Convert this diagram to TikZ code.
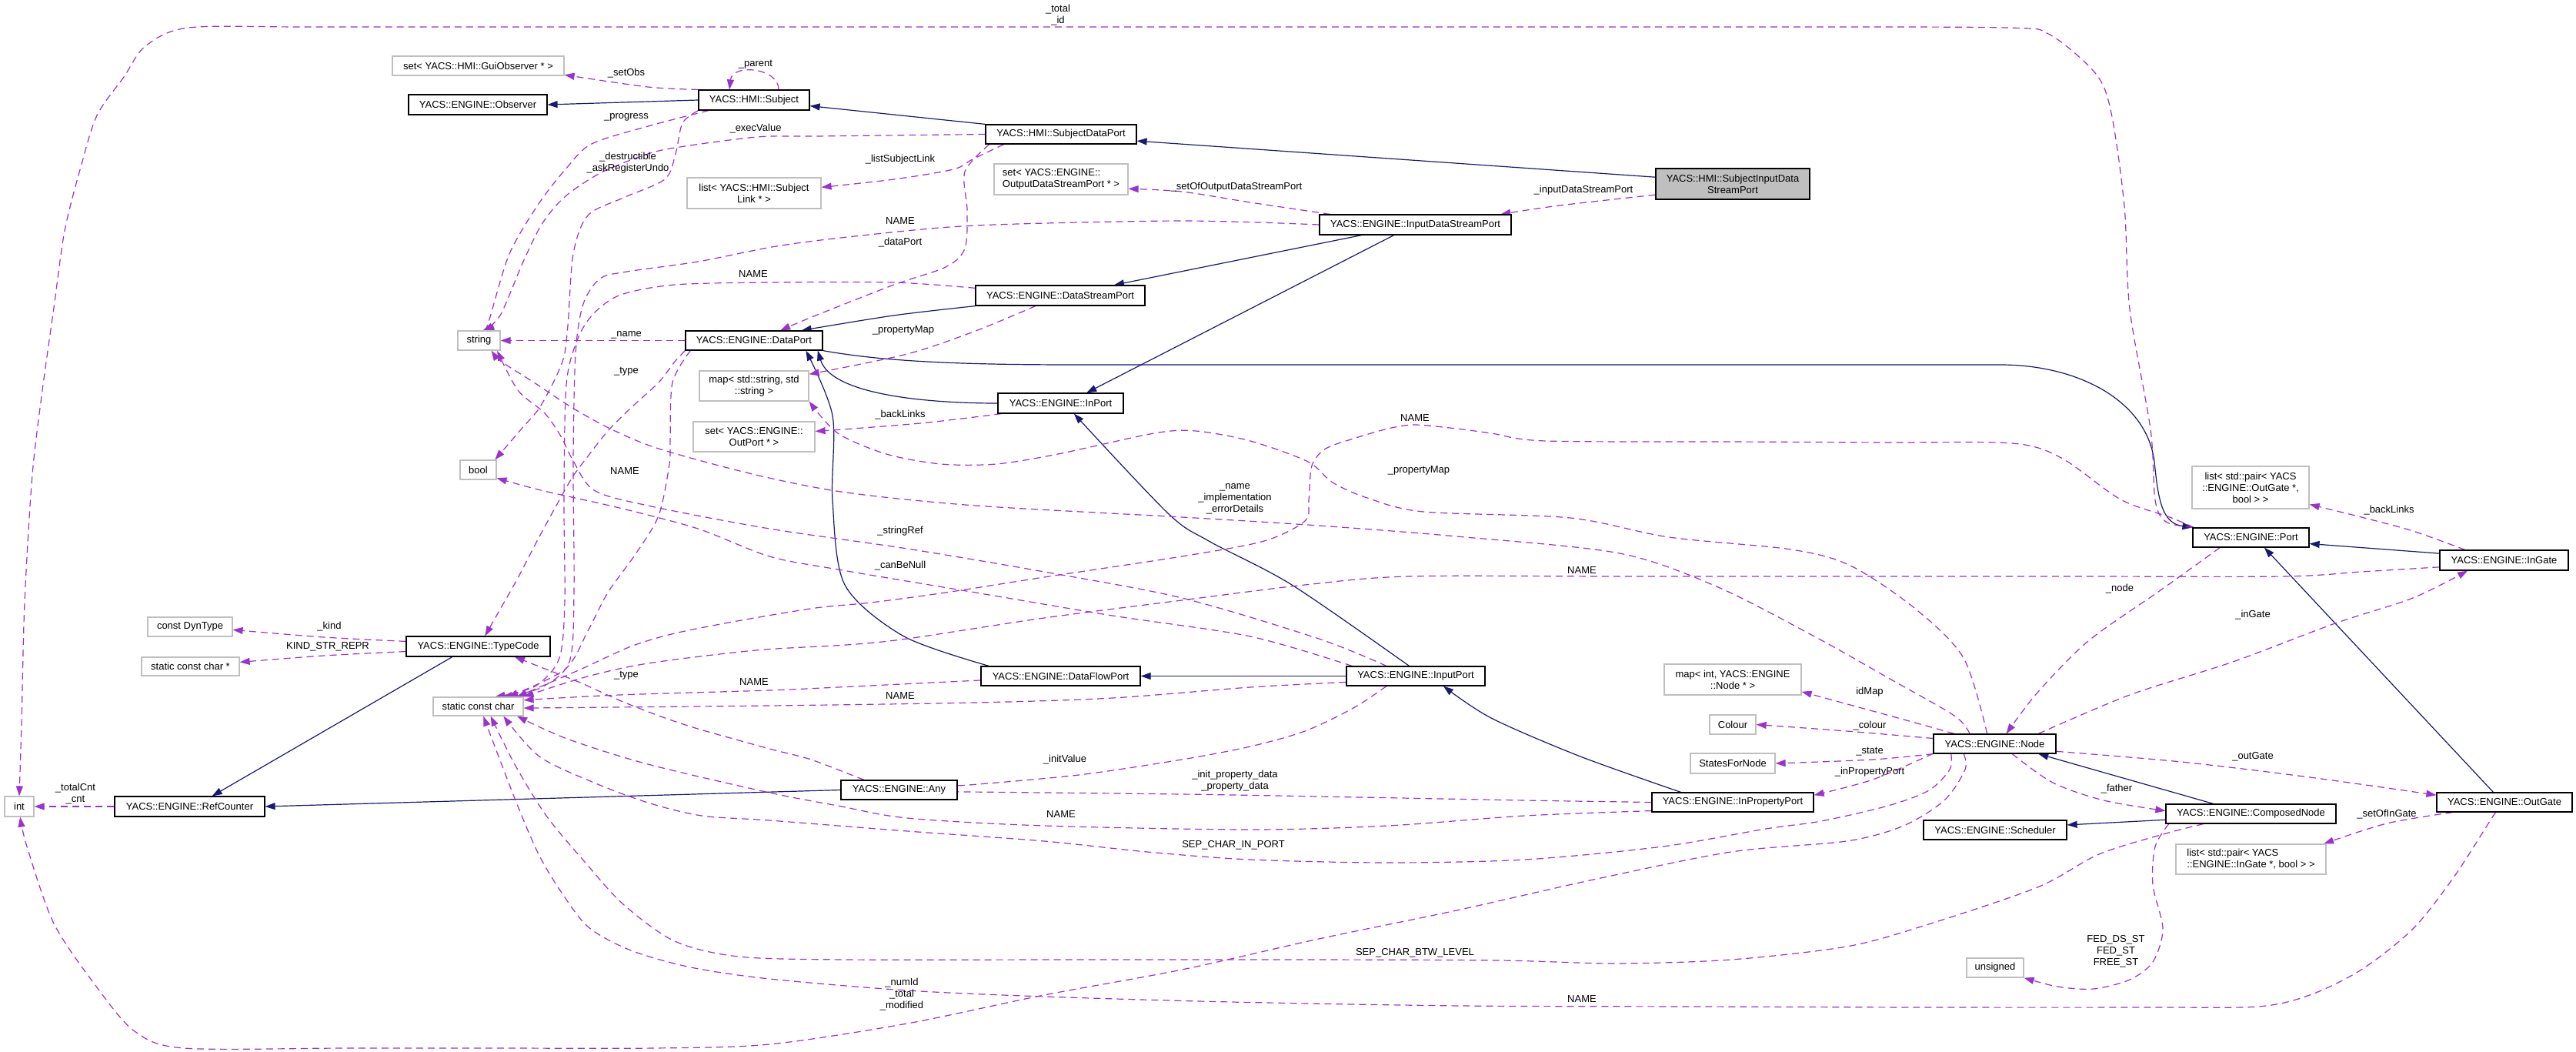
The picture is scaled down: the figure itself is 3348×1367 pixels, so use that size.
\documentclass[tikz,border=0pt]{standalone}
\usepackage{fontspec}
\setmainfont{Liberation Sans}
\usetikzlibrary{arrows.meta}
\definecolor{navy}{HTML}{191970}
\definecolor{purp}{HTML}{9A32CD}
\definecolor{lgray}{HTML}{BFBFBF}
\definecolor{gfill}{HTML}{BFBFBF}
\newcommand\dfont{\fontsize{13}{15}\selectfont}
\pgfdeclarelayer{bg}
\pgfsetlayers{bg,main}
\begin{document}
\begin{tikzpicture}[x=1pt,y=-1pt,
 cls/.style={draw=black,line width=1.2pt,fill=white,inner sep=0pt,font=\dfont,align=center},
 ext/.style={draw=lgray,line width=1.2pt,fill=white,inner sep=0pt,font=\dfont,align=center},
 box/.style 2 args={minimum width=#1pt,minimum height=#2pt},
 inh/.style={draw=navy,line width=1.2pt,-{Triangle[length=13pt,width=9pt]}},
 dep/.style={draw=purp,line width=1.2pt,dash pattern=on 9pt off 6pt,-{Triangle[length=13pt,width=9pt]}},
 lbl/.style={font=\dfont,inner sep=0pt,align=center}]
\path[use as bounding box] (0,0) rectangle (3348,1367);
% ---------- nodes ----------
\node[ext,box={223}{25}] (guiobs) at (621.5,85.5) {set< YACS::HMI::GuiObserver * >};
\node[cls,box={180}{26}] (observer) at (621,136) {YACS::ENGINE::Observer};
\node[cls,box={144}{26}] (subject) at (980,130) {YACS::HMI::Subject};
\node[ext,box={174}{40}] (subjlink) at (980,251) {list< YACS::HMI::Subject\\Link * >};
\node[ext,box={55}{25}] (string) at (622.5,442.5) {string};
\node[cls,box={178}{25}] (dataport) at (980,442.5) {YACS::ENGINE::DataPort};
\node[ext,box={142}{39}] (mapstr) at (980,501.5) {map< std::string, std\\::string >};
\node[ext,box={158}{39}] (setoutport) at (980,567.5) {set< YACS::ENGINE::\\OutPort * >};
\node[ext,box={47}{25}] (bool) at (621.5,610.5) {bool};
\node[ext,box={110}{25}] (dyntype) at (247,814.5) {const DynType};
\node[cls,box={187}{26}] (typecode) at (621.5,840) {YACS::ENGINE::TypeCode};
\node[ext,box={127}{24}] (kindstr) at (247.5,866) {static const char *};
\node[ext,box={117}{24}] (scc) at (621.5,918) {static const char};
\node[ext,box={38}{26}] (int) at (25,1048) {int};
\node[cls,box={195}{26}] (refcounter) at (246.5,1048) {YACS::ENGINE::RefCounter};
\node[cls,box={196}{25}] (subjdataport) at (1379,174.5) {YACS::HMI::SubjectDataPort};
\node[ext,box={174}{40},align=left] (setodsp) at (1379,233) {set< YACS::ENGINE::\\OutputDataStreamPort * >};
\node[cls,box={200}{40},fill=gfill] (sidsp) at (2252,239) {YACS::HMI::SubjectInputData\\StreamPort};
\node[cls,box={249}{26}] (idsp) at (1839.5,292) {YACS::ENGINE::InputDataStreamPort};
\node[cls,box={220}{26}] (dsp) at (1378,384) {YACS::ENGINE::DataStreamPort};
\node[cls,box={163}{26}] (inport) at (1378.5,524) {YACS::ENGINE::InPort};
\node[cls,box={207}{25}] (dataflowport) at (1378.5,878.5) {YACS::ENGINE::DataFlowPort};
\node[cls,box={180}{25}] (inputport) at (1840,878.5) {YACS::ENGINE::InputPort};
\node[ext,box={178}{40}] (mapintnode) at (2252,883) {map< int, YACS::ENGINE\\::Node * >};
\node[ext,box={60}{25}] (colour) at (2252,941.5) {Colour};
\node[ext,box={110}{26}] (statesfornode) at (2252,992) {StatesForNode};
\node[cls,box={151}{25}] (any) at (1168.5,1026.5) {YACS::ENGINE::Any};
\node[cls,box={210}{25}] (inpropport) at (2252,1042.5) {YACS::ENGINE::InPropertyPort};
\node[ext,box={152}{55}] (listpairog) at (2925,633.5) {list< std::pair< YACS\\::ENGINE::OutGate *,\\bool > >};
\node[cls,box={151}{25}] (port) at (2925.5,698.5) {YACS::ENGINE::Port};
\node[cls,box={167}{26}] (ingate) at (3254.5,728) {YACS::ENGINE::InGate};
\node[cls,box={159}{25}] (node) at (2592.5,966.5) {YACS::ENGINE::Node};
\node[cls,box={176}{25}] (outgate) at (3255,1042.5) {YACS::ENGINE::OutGate};
\node[cls,box={221}{25}] (composednode) at (2925.5,1057.5) {YACS::ENGINE::ComposedNode};
\node[cls,box={186}{25}] (scheduler) at (2593,1078.5) {YACS::ENGINE::Scheduler};
\node[ext,box={195}{39},align=left] (listpairig) at (2925.5,1116.5) {list< std::pair< YACS\\::ENGINE::InGate *, bool > >};
\node[ext,box={74}{25}] (unsigned) at (2593,1257.5) {unsigned};
% ---------- labels ----------
\node[lbl] (l01) at (814,95) {\_setObs};
\node[lbl] (l02) at (982,84) {\_parent};
\node[lbl] (l03) at (814,152) {\_progress};
\node[lbl] (l04) at (982,167) {\_execValue};
\node[lbl] (l05) at (816,212) {\_destructible\\\_askRegisterUndo};
\node[lbl] (l06) at (1170,207) {\_listSubjectLink};
\node[lbl] (l07) at (1170,315) {\_dataPort};
\node[lbl] (l08) at (1170,287) {NAME};
\node[lbl] (l09) at (979,356) {NAME};
\node[lbl] (l10) at (814,435) {\_name};
\node[lbl] (l11) at (814,483) {\_type};
\node[lbl] (l12) at (1174,429) {\_propertyMap};
\node[lbl] (l13) at (812,612) {NAME};
\node[lbl] (l14) at (1170,539) {\_backLinks};
\node[lbl] (l15) at (1170,690) {\_stringRef};
\node[lbl] (l16) at (1170,735) {\_canBeNull};
\node[lbl] (l17) at (428,814) {\_kind};
\node[lbl] (l18) at (426,840) {KIND\_STR\_REPR};
\node[lbl] (l19) at (814,878) {\_type};
\node[lbl] (l20) at (980,886) {NAME};
\node[lbl] (l21) at (1170,904) {NAME};
\node[lbl] (l22) at (98,1032) {\_totalCnt\\\_cnt};
\node[lbl] (l23) at (1375,20) {\_total\\\_id};
\node[lbl] (l24) at (1607,243) {\_setOfOutputDataStreamPort};
\node[lbl] (l25) at (2058,247) {\_inputDataStreamPort};
\node[lbl] (l26) at (1839,543) {NAME};
\node[lbl] (l27) at (1844,611) {\_propertyMap};
\node[lbl] (l28) at (1605,648) {\_name\\\_implementation\\\_errorDetails};
\node[lbl] (l29) at (2056,741) {NAME};
\node[lbl] (l30) at (1384,987) {\_initValue};
\node[lbl] (l31) at (1605,1015) {\_init\_property\_data\\\_property\_data};
\node[lbl] (l32) at (1379,1058) {NAME};
\node[lbl] (l33) at (1603,1098) {SEP\_CHAR\_IN\_PORT};
\node[lbl] (l34) at (1839,1238) {SEP\_CHAR\_BTW\_LEVEL};
\node[lbl] (l35) at (1172,1292) {\_numId\\\_total\\\_modified};
\node[lbl] (l36) at (2056,1298) {NAME};
\node[lbl] (l37) at (3105,663) {\_backLinks};
\node[lbl] (l38) at (2755,765) {\_node};
\node[lbl] (l39) at (2928,799) {\_inGate};
\node[lbl] (l40) at (2430,899) {idMap};
\node[lbl] (l41) at (2430,943) {\_colour};
\node[lbl] (l42) at (2430,977) {\_state};
\node[lbl] (l43) at (2928,983) {\_outGate};
\node[lbl] (l44) at (2430,1003) {\_inPropertyPort};
\node[lbl] (l45) at (2751,1025) {\_father};
\node[lbl] (l46) at (3102,1058) {\_setOfInGate};
\node[lbl] (l47) at (2750,1236) {FED\_DS\_ST\\FED\_ST\\FREE\_ST};
% ---------- connectors ----------
\begin{pgfonlayer}{bg}
\fill[white] (0,0) rectangle (3348,1367);
% inheritance
\draw[inh] (subject.west) -- (observer.east);
\draw[inh] (subjdataport.north west) -- (subject.-6);
\draw[inh] (sidsp.175) -- (subjdataport.-5);
\draw[inh] (idsp.-169) -- (dsp.11);
\draw[inh] (idsp.-154) -- (inport.22);
\draw[inh] plot[smooth] coordinates {(dsp.south west) (1161,410) (dataport.12)};
\draw[inh] (dataport.south east) .. controls (1150,470) and (1250,474) .. (1400,474) -- (2600,474) .. controls (2700,474) and (2790,520) .. (2800,600) .. controls (2805,650) and (2810,680) .. (port.north west);
\draw[inh] (inport.west) .. controls (1200,524) and (1080,512) .. (dataport.-9);
\draw[inh] plot[smooth] coordinates {(dataflowport.172) (1175,827) (1098,760) (1082,650) (1082,540) (dataport.-11)};
\draw[inh] (inputport.west) -- (dataflowport.east);
\draw[inh] plot[smooth] coordinates {(inputport.123) (1679,760) (1571,703) (1518,667) (inport.-38)};
\draw[inh] plot[smooth] coordinates {(inpropport.169) (2054,983) (1938,933) (inputport.-20)};
\draw[inh] (typecode.-158) -- (refcounter.25);
\draw[inh] (any.west) -- (refcounter.east);
\draw[inh] (ingate.174) -- (port.-6);
\draw[inh] (outgate.138) -- (port.-37);
\draw[inh] (composednode.165) -- (node.-13);
\draw[inh] (composednode.184) -- (scheduler.4);
% usage
\draw[dep] plot[smooth] coordinates {(subject.north west) (842,113) (guiobs.-6)};
\draw[dep] (subject.23) .. controls (1012,88) and (952,82) .. (subject.157);
\draw[dep] plot[smooth] coordinates {(subject.-167) (846,163) (769,187) (735,220) (700,265) (662,330) (636,415) (string.62)};
\draw[dep] plot[smooth] coordinates {(subjdataport.west) (1060,177) (984,178) (877,192) (836,202) (780,225) (735,255) (705,290) (680,340) (650,410) (string.68)};
\draw[dep] plot[smooth] coordinates {(subject.south west) (887,160) (878,200) (864,233) (810,257) (764,280) (745,330) (738,423) (731,470) (703,527) (678,557) (bool.31)};
\draw[dep] plot[smooth] coordinates {(subjdataport.-172) (1254,223) (1257,273) (1254,323) (1229,347) (1162,370) (1060,410) (dataport.21)};
\draw[dep] plot[smooth] coordinates {(subjdataport.-170) (1264,207) (1239,220) (1162,233) (subjlink.5)};
\draw[dep] (dataport.west) -- (string.east);
\draw[dep] plot[smooth] coordinates {(dataport.south west) (877,470) (856,497) (820,530) (790,560) (764,593) (744,620) (723,657) (698,703) (672,753) (647,797) (typecode.57)};
\draw[dep] plot[smooth] coordinates {(any.164) (1054,987) (1000,973) (907,947) (856,930) (805,910) (754,887) (703,867) (typecode.-16)};
\draw[dep] plot[smooth] coordinates {(typecode.176) (421,828) (dyntype.-4)};
\draw[dep] plot[smooth] coordinates {(typecode.-176) (421,852) (kindstr.5)};
\draw[dep] (refcounter.west) -- (int.east);
\draw[dep] plot[smooth] coordinates {(port.north west) (2815,678) (2801,650) (2795,558) (2768,402) (2761,268) (2744,147) (2724,96) (2664,45) (2607,36) (2300,35) (1900,35) (1500,35) (1100,35) (700,35) (400,35) (245,36) (189,60) (161,100) (126,150) (105,217) (84,300) (70,400) (56,500) (42,617) (32,783) (28,940) (int.north)};
\draw[dep] plot[smooth] coordinates {(node.-162) (2554,1000) (2527,1040) (2474,1073) (2400,1093) (2250,1107) (2071,1143) (1893,1183) (1714,1220) (1536,1260) (1357,1293) (1179,1330) (1000,1357) (850,1362) (650,1362) (450,1362) (239,1362) (175,1340) (126,1283) (70,1200) (35,1100) (int.-85)};
\draw[dep] plot[smooth] coordinates {(inputport.-161) (1759,920) (1696,950) (1625,970) (1536,987) (1402,1007) (1259,1020) (any.5)};
\draw[dep] plot[smooth] coordinates {(inpropport.west) (1982,1040) (1714,1035) (1536,1032) (1259,1029) (any.-2)};
\draw[dep] plot[smooth] coordinates {(inpropport.-174) (1982,1060) (1804,1073) (1625,1078) (1357,1073) (1179,1063) (1089,1047) (1000,1030) (842,993) (737,960) (scc.-14)};
\draw[dep] plot[smooth] coordinates {(node.-167) (2534,1000) (2507,1027) (2454,1047) (2367,1067) (2295,1077) (2161,1100) (1982,1117) (1804,1121) (1625,1117) (1491,1107) (1357,1093) (1179,1080) (1000,1066) (912,1060) (842,1043) (772,1017) (701,983) (scc.-21)};
\draw[dep] plot[smooth] coordinates {(composednode.-168) (2815,1083) (2728,1110) (2648,1153) (2500,1203) (2400,1230) (2250,1247) (2100,1252) (1950,1248) (1700,1247) (1400,1247) (1100,1247) (960,1243) (877,1223) (810,1175) (760,1120) (710,1060) (670,995) (scc.-38)};
\draw[dep] plot[smooth] coordinates {(outgate.-131) (3236,1067) (3189,1140) (3136,1207) (3069,1260) (3002,1293) (2935,1308) (2800,1309) (2500,1309) (2200,1308) (1900,1307) (1600,1302) (1357,1295) (1179,1287) (1000,1272) (898,1257) (820,1235) (765,1205) (730,1160) (700,1110) (670,1040) (scc.-62)};
\draw[dep] plot[smooth] coordinates {(port.170) (2820,672) (2756,649) (2679,595) (2615,576) (2450,575) (2250,574) (2009,573) (1938,563) (1893,557) (1839,552) (1804,557) (1759,570) (1723,583) (1705,605) (1701,650) (1696,677) (1643,703) (1536,723) (1357,750) (1229,770) (1132,783) (1060,790) (958,807) (877,823) (820,840) (754,870) (scc.14)};
\draw[dep] plot[smooth] coordinates {(ingate.-174) (3069,743) (2968,749) (2700,749) (2400,749) (2100,749) (1830,749) (1696,760) (1536,780) (1357,803) (1179,830) (1100,838) (982,845) (842,862) (760,880) (scc.north east)};
\draw[dep] plot[smooth] coordinates {(dataflowport.-177) (1089,893) (1000,897) (805,903) (scc.8)};
\draw[dep] plot[smooth] coordinates {(inputport.-175) (1625,893) (1446,907) (1268,913) (1000,917) (scc.-2)};
\draw[dep] plot[smooth] coordinates {(dataport.-171) (874,497) (871,570) (870,603) (856,670) (826,720) (790,770) (764,820) (734,870) (scc.18)};
\draw[dep] plot[smooth] coordinates {(dsp.175) (1161,367) (1000,367) (877,370) (807,383) (772,407) (751,440) (736,500) (733,650) (734,780) (727,855) (695,892) (scc.30)};
\draw[dep] plot[smooth] coordinates {(idsp.west) (1536,287) (1268,293) (1111,307) (1009,320) (907,340) (815,353) (780,362) (758,395) (748,460) (745,600) (746,770) (740,860) (702,894) (scc.22)};
\draw[dep] plot[smooth] coordinates {(inputport.171) (1625,827) (1446,800) (1268,770) (1089,740) (1000,723) (907,687) (805,660) (703,637) (bool.-24)};
\draw[dep] plot[smooth] coordinates {(inputport.161) (1714,830) (1536,777) (1357,743) (1179,713) (1000,687) (842,657) (772,637) (744,597) (729,567) (708,537) (673,507) (string.-29)};
\draw[dep] plot[smooth] coordinates {(node.158) (2540,930) (2456,882) (2360,828) (2233,763) (2105,719) (1893,697) (1714,683) (1536,672) (1268,657) (1100,640) (982,617) (856,583) (793,557) (744,530) (694,497) (652,470) (string.-39)};
\draw[dep] plot[smooth] coordinates {(node.127) (2552,855) (2488,790) (2405,735) (2328,714) (2169,698) (2041,673) (1850,665) (1777,647) (1732,627) (1700,600) (1625,573) (1554,560) (1500,563) (1375,590) (1295,603) (1223,603) (1152,590) (1089,563) (mapstr.south east)};
\draw[dep] plot[smooth] coordinates {(dsp.-157) (1268,430) (1179,460) (mapstr.12)};
\draw[dep] plot[smooth] coordinates {(inport.-170) (1196,550) (setoutport.5)};
\draw[dep] plot[smooth] coordinates {(sidsp.-172) (2027,267) (idsp.7)};
\draw[dep] plot[smooth] coordinates {(idsp.173) (1625,263) (1536,249) (setodsp.-8)};
\draw[dep] plot[smooth] coordinates {(ingate.165) (3136,690) (3069,672) (listpairog.-16)};
\draw[dep] plot[smooth] coordinates {(port.-162) (2808,767) (2714,833) (2648,900) (node.41)};
\draw[dep] plot[smooth] coordinates {(node.13) (2768,903) (2902,860) (3035,810) (3136,777) (ingate.-164)};
\draw[dep] plot[smooth] coordinates {(node.-7) (2835,990) (3002,1010) (outgate.174)};
\draw[dep] plot[smooth] coordinates {(node.-30) (2668,1017) (2734,1040) (composednode.178)};
\draw[dep] plot[smooth] coordinates {(outgate.-169) (3102,1070) (listpairig.12)};
\draw[dep] plot[smooth] coordinates {(node.166) (2467,933) (mapintnode.-10)};
\draw[dep] plot[smooth] coordinates {(node.175) (2400,950) (colour.east)};
\draw[dep] plot[smooth] coordinates {(node.south west) (2434,987) (statesfornode.east)};
\draw[dep] plot[smooth] coordinates {(node.-171) (2434,1013) (inpropport.5)};
\draw[dep] plot[smooth] coordinates {(composednode.-173) (2801,1100) (2798,1150) (2811,1207) (2798,1250) (2768,1273) (2721,1285) (2674,1282) (unsigned.south east)};
\end{pgfonlayer}
\end{tikzpicture}
\end{document}
